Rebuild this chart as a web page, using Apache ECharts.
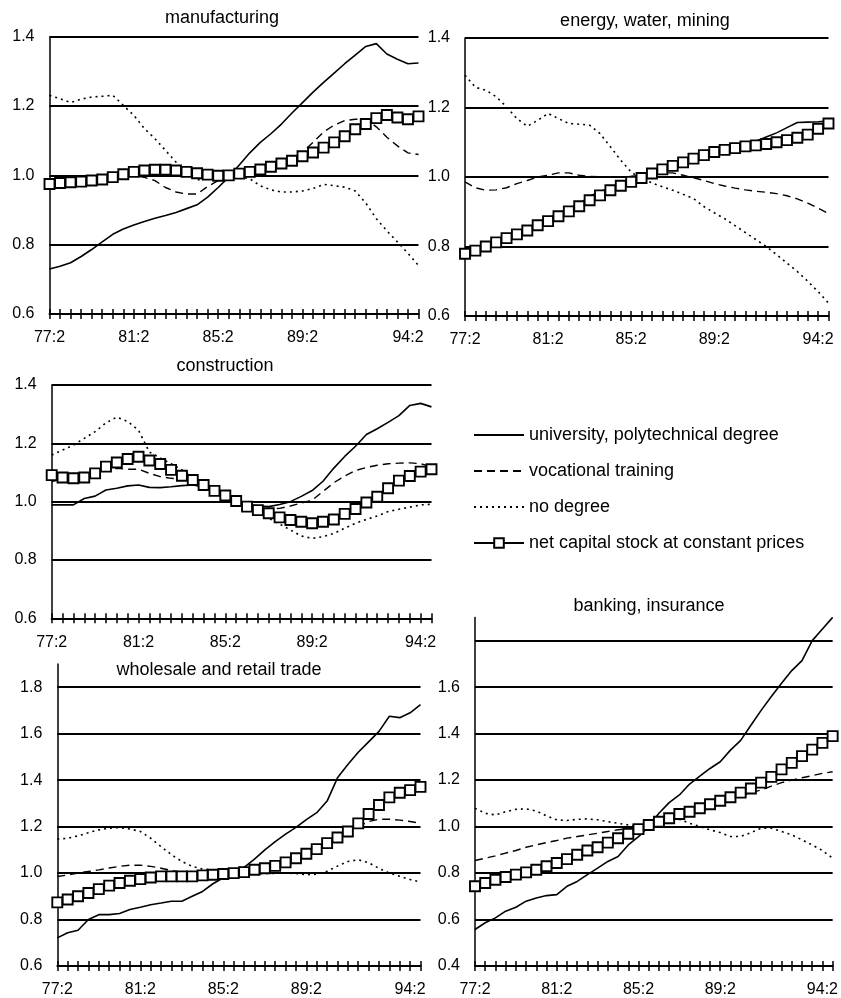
<!DOCTYPE html>
<html><head><meta charset="utf-8">
<script src="https://cdn.jsdelivr.net/npm/echarts@6/dist/echarts.min.js"></script>
<style>html,body{margin:0;padding:0;background:#fff}#c{width:841px;height:998px}</style>
</head><body><div id="c"></div>
<script>
const periods = ["77:2","78:1","78:2","79:1","79:2","80:1","80:2","81:1","81:2","82:1","82:2","83:1","83:2","84:1","84:2","85:1","85:2","86:1","86:2","87:1","87:2","88:1","88:2","89:1","89:2","90:1","90:2","91:1","91:2","92:1","92:2","93:1","93:2","94:1","94:2","95:1"];
const tickLabels = ["77:2","81:2","85:2","89:2","94:2"];
const seriesNames = ["university, polytechnical degree","vocational training","no degree","net capital stock at constant prices"];
const panelTitles = ["manufacturing","energy, water, mining","construction","wholesale and retail trade","banking, insurance"];

// manufacturing
const mfgUniv = [0.730,0.738,0.748,0.766,0.786,0.808,0.830,0.845,0.857,0.867,0.876,0.884,0.893,0.904,0.915,0.937,0.965,0.995,1.030,1.065,1.095,1.120,1.148,1.180,1.210,1.240,1.268,1.295,1.322,1.347,1.372,1.380,1.350,1.335,1.322,1.324];
const mfgVoc = [0.975,0.978,0.980,0.982,0.985,0.988,0.994,1.000,1.000,0.994,0.985,0.965,0.952,0.946,0.946,0.968,0.985,0.996,1.003,1.010,1.017,1.025,1.034,1.045,1.067,1.095,1.125,1.145,1.158,1.162,1.162,1.140,1.110,1.085,1.065,1.060];
const mfgNone = [1.231,1.221,1.210,1.220,1.226,1.228,1.231,1.202,1.173,1.135,1.106,1.072,1.038,1.010,0.986,0.995,1.000,1.000,0.997,0.990,0.970,0.958,0.952,0.952,0.955,0.962,0.974,0.970,0.966,0.955,0.920,0.875,0.840,0.808,0.775,0.740];
const mfgCap = [0.975,0.978,0.980,0.982,0.985,0.988,0.995,1.003,1.010,1.014,1.016,1.016,1.014,1.010,1.006,1.002,0.999,1.000,1.005,1.010,1.017,1.025,1.034,1.042,1.055,1.066,1.080,1.095,1.113,1.133,1.148,1.165,1.174,1.167,1.162,1.170];

// energy, water, mining
const enUniv = [0.785,0.792,0.802,0.814,0.828,0.842,0.850,0.858,0.882,0.895,0.910,0.922,0.945,0.958,0.968,0.978,0.988,0.998,1.010,1.022,1.032,1.042,1.053,1.063,1.072,1.078,1.083,1.093,1.103,1.115,1.127,1.142,1.157,1.158,1.159,1.161];
const enVoc = [0.986,0.969,0.962,0.963,0.969,0.981,0.990,1.000,1.005,1.012,1.012,1.005,1.002,1.001,1.001,1.000,1.002,1.005,1.010,1.012,1.012,1.005,0.998,0.990,0.981,0.974,0.968,0.963,0.959,0.956,0.952,0.946,0.937,0.925,0.910,0.895];
const enNone = [1.293,1.258,1.250,1.231,1.202,1.168,1.146,1.163,1.183,1.168,1.154,1.152,1.149,1.125,1.087,1.048,1.014,0.995,0.983,0.972,0.962,0.950,0.938,0.915,0.897,0.880,0.860,0.840,0.820,0.800,0.777,0.752,0.728,0.700,0.670,0.637];
const enCap = [0.779,0.788,0.800,0.812,0.824,0.835,0.846,0.861,0.873,0.887,0.901,0.916,0.933,0.947,0.962,0.975,0.986,0.997,1.010,1.022,1.032,1.042,1.053,1.063,1.072,1.078,1.083,1.088,1.091,1.095,1.100,1.106,1.113,1.122,1.139,1.154];

// construction
const conUniv = [0.989,0.989,0.989,1.011,1.019,1.040,1.046,1.054,1.057,1.049,1.048,1.051,1.055,1.057,1.050,1.040,1.023,1.003,0.990,0.985,0.983,0.990,1.000,1.018,1.038,1.070,1.115,1.155,1.190,1.230,1.250,1.272,1.295,1.330,1.337,1.325];
const conVoc = [1.069,1.077,1.080,1.091,1.097,1.109,1.114,1.111,1.111,1.097,1.086,1.080,1.077,1.069,1.057,1.037,1.021,1.002,0.985,0.977,0.975,0.977,0.985,0.995,1.005,1.035,1.065,1.088,1.107,1.117,1.125,1.130,1.132,1.133,1.130,1.120];
const conNone = [1.160,1.177,1.194,1.217,1.240,1.270,1.290,1.275,1.245,1.170,1.150,1.130,1.109,1.086,1.063,1.034,1.017,0.997,0.974,0.958,0.943,0.923,0.903,0.882,0.874,0.880,0.891,0.909,0.926,0.939,0.951,0.966,0.974,0.981,0.989,0.991];
const conCap = [1.091,1.083,1.080,1.083,1.097,1.120,1.134,1.146,1.154,1.141,1.129,1.109,1.089,1.074,1.057,1.037,1.021,1.002,0.983,0.971,0.960,0.946,0.937,0.931,0.926,0.931,0.939,0.958,0.975,0.997,1.017,1.046,1.072,1.088,1.103,1.111];

// wholesale and retail trade
const tradeUniv = [0.721,0.743,0.754,0.800,0.821,0.821,0.826,0.843,0.853,0.864,0.871,0.879,0.879,0.900,0.921,0.954,0.980,1.000,1.025,1.060,1.100,1.135,1.168,1.197,1.230,1.260,1.310,1.410,1.467,1.520,1.565,1.610,1.675,1.669,1.690,1.725];
const tradeVoc = [0.985,0.992,1.000,1.007,1.014,1.022,1.029,1.034,1.034,1.029,1.021,1.011,1.002,0.995,0.993,0.994,0.996,1.000,1.003,1.010,1.018,1.028,1.042,1.060,1.080,1.100,1.125,1.150,1.175,1.200,1.222,1.232,1.232,1.228,1.222,1.214];
const tradeNone = [1.146,1.150,1.160,1.174,1.186,1.193,1.196,1.190,1.179,1.150,1.114,1.079,1.050,1.029,1.017,1.014,1.007,1.000,0.997,0.997,0.998,0.999,1.000,0.998,0.993,0.995,1.008,1.030,1.050,1.057,1.045,1.020,1.000,0.986,0.972,0.962];
const tradeCap = [0.874,0.886,0.900,0.914,0.931,0.946,0.957,0.967,0.974,0.981,0.986,0.986,0.986,0.986,0.990,0.993,0.996,1.000,1.004,1.014,1.021,1.031,1.046,1.064,1.083,1.103,1.129,1.153,1.179,1.214,1.254,1.293,1.326,1.346,1.357,1.371];

// banking, insurance
const bankUniv = [0.557,0.586,0.607,0.636,0.653,0.679,0.693,0.703,0.707,0.743,0.764,0.793,0.821,0.850,0.871,0.921,0.957,1.000,1.057,1.103,1.136,1.183,1.217,1.250,1.279,1.329,1.371,1.436,1.500,1.560,1.617,1.671,1.714,1.800,1.850,1.900];
const bankVoc = [0.854,0.864,0.874,0.886,0.897,0.911,0.921,0.931,0.940,0.950,0.957,0.964,0.971,0.979,0.986,0.991,0.997,1.003,1.014,1.026,1.036,1.050,1.064,1.079,1.096,1.114,1.129,1.146,1.157,1.174,1.189,1.200,1.210,1.219,1.229,1.236];
const bankNone = [1.079,1.057,1.050,1.064,1.074,1.076,1.067,1.046,1.029,1.026,1.031,1.033,1.029,1.021,1.014,1.007,1.003,1.000,1.000,1.021,1.031,1.014,1.000,0.986,0.974,0.957,0.957,0.974,0.993,0.993,0.979,0.964,0.943,0.921,0.897,0.864];
const bankCap = [0.743,0.757,0.771,0.783,0.793,0.803,0.814,0.829,0.843,0.860,0.879,0.897,0.911,0.931,0.950,0.969,0.989,1.007,1.021,1.036,1.054,1.064,1.079,1.096,1.111,1.126,1.146,1.164,1.189,1.214,1.246,1.274,1.303,1.331,1.360,1.389];

const yMins = [0.6,0.6,0.6,0.6,0.4];
const yMaxs = [1.4,1.4,1.4,1.9,1.9];
const yHiddenLabels = [[],[],[],[1.9],[1.8,1.9]];

const panelData = [
  [mfgUniv, mfgVoc, mfgNone, mfgCap],
  [enUniv, enVoc, enNone, enCap],
  [conUniv, conVoc, conNone, conCap],
  [tradeUniv, tradeVoc, tradeNone, tradeCap],
  [bankUniv, bankVoc, bankNone, bankCap]
];

// layout (pixels)
const FONT = "'Liberation Sans', Arial, Helvetica, sans-serif";
const grids = [
  {left: 49.5, right: 422.5, top: 36.7, bottom: 684},
  {left: 465, right: 12.5, top: 38, bottom: 682},
  {left: 51.7, right: 409.5, top: 385, bottom: 379.7},
  {left: 57.3, right: 420.5, top: 664, bottom: 30.7},
  {left: 475, right: 4.5, top: 617.4, bottom: 32}
];
const titlePos = [
  {x: 222, y: 9}, {x: 645, y: 12}, {x: 225, y: 357}, {x: 219, y: 661}, {x: 649, y: 597}
];

const xAxes = [], yAxes = [], series = [], titles = [];
grids.forEach((g, i) => {
  xAxes.push({
    gridIndex: i, type: 'category', data: periods, boundaryGap: false, position: 'bottom',
    axisLine: {show: true, onZero: false, lineStyle: {color: '#000', width: 2}},
    axisTick: {show: true, interval: 0, length: 5, lineStyle: {color: '#000', width: 1.5}},
    axisLabel: {interval: (idx, val) => tickLabels.includes(val), color: '#000', fontSize: 16, margin: 16, fontFamily: FONT},
    splitLine: {show: false}
  });
  xAxes.push({
    gridIndex: i, type: 'category', data: periods, boundaryGap: false, position: 'bottom',
    axisLine: {show: false, onZero: false},
    axisTick: {show: true, inside: true, interval: 0, length: 5, lineStyle: {color: '#000', width: 1.5}},
    axisLabel: {show: false}, splitLine: {show: false}
  });
  const hidden = yHiddenLabels[i];
  yAxes.push({
    gridIndex: i, type: 'value', min: yMins[i], max: yMaxs[i], interval: 0.2,
    axisLine: {show: true, lineStyle: {color: '#000', width: 1.5}},
    axisTick: {show: false},
    axisLabel: {
      color: '#000', fontSize: 16, margin: 15, fontFamily: FONT, showMaxLabel: true,
      formatter: v => hidden.some(h => Math.abs(h - v) < 1e-6) ? '' : v.toFixed(1)
    },
    splitLine: {show: true, showMaxLine: yMaxs[i] <= 1.4, lineStyle: {color: '#000', width: 2}}
  });
  titles.push({
    text: panelTitles[i], left: titlePos[i].x, top: titlePos[i].y, textAlign: 'center', padding: 0,
    textStyle: {fontSize: 18, fontWeight: 'normal', color: '#000', fontFamily: FONT}
  });
  const [u, v, n, c] = panelData[i];
  const base = {type: 'line', xAxisIndex: 2 * i, yAxisIndex: i, smooth: false, animation: false};
  series.push(Object.assign({}, base, {name: seriesNames[0], data: u, symbol: 'none', z: 3,
    lineStyle: {color: '#000', width: 1.6, type: 'solid'}, itemStyle: {color: '#000', opacity: 0}}));
  series.push(Object.assign({}, base, {name: seriesNames[1], data: v, symbol: 'none', z: 3,
    lineStyle: {color: '#000', width: 1.4, type: [8, 5]}, itemStyle: {color: '#000', opacity: 0}}));
  series.push(Object.assign({}, base, {name: seriesNames[2], data: n, symbol: 'none', z: 3,
    lineStyle: {color: '#000', width: 1.6, type: [2, 4]}, itemStyle: {color: '#000', opacity: 0}}));
  series.push(Object.assign({}, base, {name: seriesNames[3], data: c, symbol: 'rect', symbolSize: 10, showAllSymbol: true, z: 4,
    lineStyle: {color: '#000', width: 1.6}, itemStyle: {color: '#fff', borderColor: '#000', borderWidth: 1.9}}));
});

const chart = echarts.init(document.getElementById('c'), null, {renderer: 'canvas'});
chart.setOption({
  animation: false,
  backgroundColor: '#fff',
  title: titles,
  grid: grids,
  xAxis: xAxes,
  yAxis: yAxes,
  legend: {
    orient: 'vertical', left: 468, top: 420, itemWidth: 50, itemHeight: 12, itemGap: 16,
    selectedMode: false,
    data: [
      {name: seriesNames[0], itemStyle: {opacity: 0}},
      {name: seriesNames[1], itemStyle: {opacity: 0}},
      {name: seriesNames[2], itemStyle: {opacity: 0}},
      {name: seriesNames[3]}
    ],
    textStyle: {fontSize: 18, color: '#000', fontFamily: FONT, lineHeight: 20}
  },
  series: series
});
</script>
</body></html>
